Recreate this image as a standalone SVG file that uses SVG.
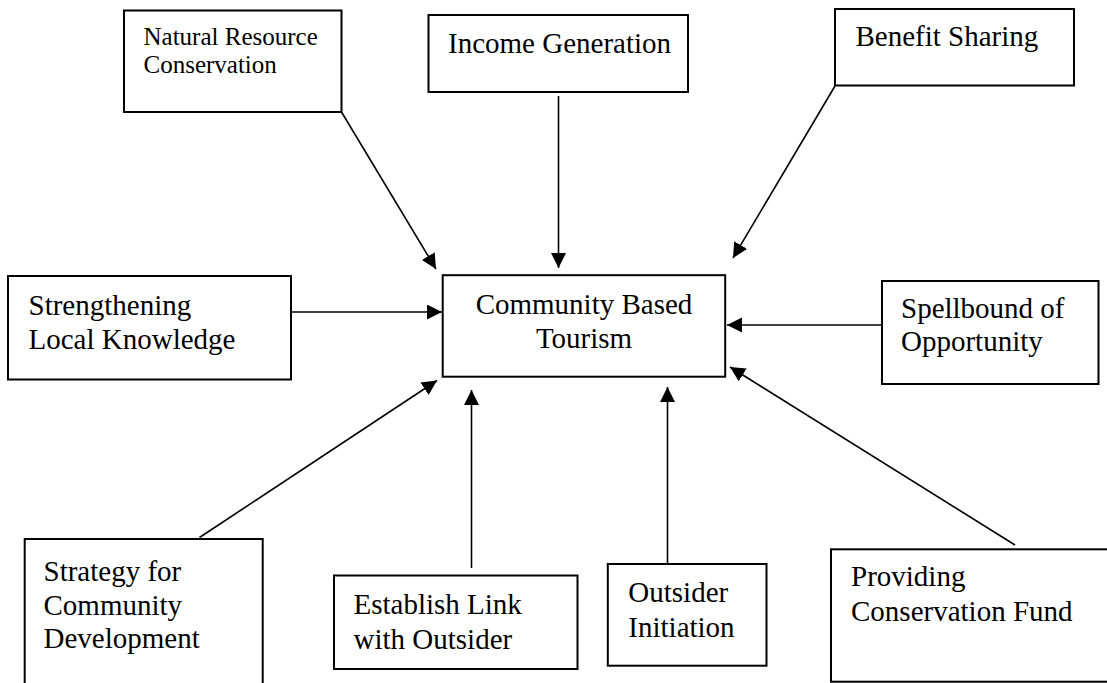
<svg xmlns="http://www.w3.org/2000/svg" width="1107" height="683" viewBox="0 0 1107 683">
<style>
.box{fill:#fff;stroke:#000;stroke-width:2}
.t{font-family:"Liberation Serif","Times New Roman",serif;font-size:29px;fill:#000}
.s{font-size:25px}
.c{stroke:#000;stroke-width:1.6;fill:none;marker-end:url(#ah)}
</style>
<defs>
<marker id="ah" markerUnits="userSpaceOnUse" markerWidth="16" markerHeight="16" refX="15" refY="7.5" orient="auto">
<path d="M0,0 L15,7.5 L0,15 z" fill="#000"/>
</marker>
</defs>
<rect width="1107" height="683" fill="#fff"/>
<g id="connectors">
<line class="c" x1="341.5" y1="112" x2="436" y2="269"/>
<line class="c" x1="558.5" y1="96" x2="558.5" y2="268"/>
<line class="c" x1="835" y1="86" x2="733" y2="258"/>
<line class="c" x1="291" y1="312" x2="442" y2="312"/>
<line class="c" x1="882" y1="325" x2="727" y2="325"/>
<line class="c" x1="199.5" y1="537.5" x2="437" y2="380.5"/>
<line class="c" x1="471.5" y1="568" x2="471.5" y2="390"/>
<line class="c" x1="667.5" y1="564" x2="667.5" y2="387"/>
<line class="c" x1="1015" y1="545" x2="730" y2="367"/>
</g>
<g id="natural-resource">
<rect class="box" x="124" y="10.5" width="217.5" height="101.5"/>
<text class="t s" x="143.5" y="44.5">Natural Resource</text>
<text class="t s" x="143.5" y="73">Conservation</text>
</g>
<g id="income-generation">
<rect class="box" x="428.5" y="15" width="259.5" height="77"/>
<text class="t" x="448" y="52.5">Income Generation</text>
</g>
<g id="benefit-sharing">
<rect class="box" x="835" y="9" width="239" height="76.5"/>
<text class="t" x="855.5" y="46">Benefit Sharing</text>
</g>
<g id="strengthening">
<rect class="box" x="8" y="276" width="283" height="103.5"/>
<text class="t" x="28.5" y="314.5">Strengthening</text>
<text class="t" x="28.5" y="348.5">Local Knowledge</text>
</g>
<g id="community-based-tourism">
<rect class="box" x="442.7" y="275.2" width="282.5" height="101.5"/>
<text class="t" x="584" y="313.5" text-anchor="middle">Community Based</text>
<text class="t" x="584" y="347.5" text-anchor="middle">Tourism</text>
</g>
<g id="spellbound">
<rect class="box" x="882" y="281" width="216.5" height="103"/>
<text class="t" x="901" y="318">Spellbound of</text>
<text class="t" x="901" y="351">Opportunity</text>
</g>
<g id="strategy">
<rect class="box" x="24.7" y="539" width="238" height="160"/>
<text class="t" x="43.5" y="581">Strategy for</text>
<text class="t" x="43.5" y="614.5">Community</text>
<text class="t" x="43.5" y="648">Development</text>
</g>
<g id="establish-link">
<rect class="box" x="334" y="575.5" width="243.5" height="93.5"/>
<text class="t" x="353.5" y="614.2">Establish Link</text>
<text class="t" x="353.5" y="648.5">with Outsider</text>
</g>
<g id="outsider-initiation">
<rect class="box" x="607.8" y="564" width="158.7" height="101.7"/>
<text class="t" x="628.3" y="602">Outsider</text>
<text class="t" x="628.3" y="636.5">Initiation</text>
</g>
<g id="providing-fund">
<rect class="box" x="831" y="549.3" width="290" height="132.4"/>
<text class="t" x="851" y="586">Providing</text>
<text class="t" x="851" y="621">Conservation Fund</text>
</g>
</svg>
